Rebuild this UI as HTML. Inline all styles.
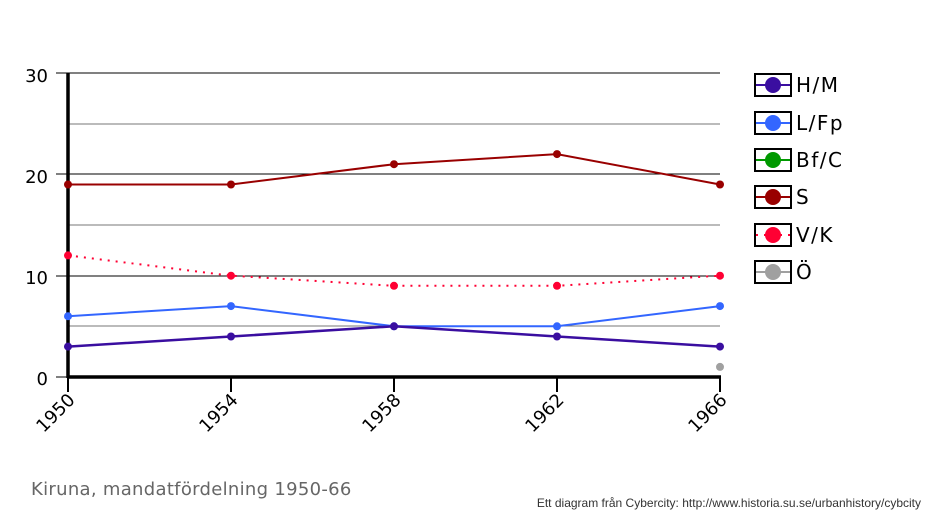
<!DOCTYPE html>
<html><head><meta charset="utf-8"><style>body{margin:0;background:#fff}svg{display:block}</style></head><body>
<svg width="938" height="521" xmlns="http://www.w3.org/2000/svg" font-family="'DejaVu Sans', sans-serif">
<g stroke="#777" stroke-width="1">
<line x1="68" x2="720" y1="124" y2="124"/><line x1="68" x2="720" y1="225" y2="225"/><line x1="68" x2="720" y1="326" y2="326"/>
</g>
<g stroke="#000" stroke-width="1">
<line x1="56" x2="720" y1="73" y2="73"/><line x1="56" x2="720" y1="174" y2="174"/><line x1="56" x2="720" y1="276" y2="276"/><line x1="56" x2="68" y1="377" y2="377"/>
</g>
<g stroke="#000" stroke-width="2">
<line x1="231" x2="231" y1="377" y2="392"/><line x1="394" x2="394" y1="377" y2="392"/><line x1="557" x2="557" y1="377" y2="392"/><line x1="720" x2="720" y1="377" y2="392"/><line x1="68" x2="68" y1="377" y2="392"/>
</g>
<line x1="68" x2="68" y1="73" y2="378" stroke="#000" stroke-width="3.5"/>
<line x1="67" x2="721" y1="377" y2="377" stroke="#000" stroke-width="3.5"/>
<g font-size="18" text-anchor="end" fill="#000">
<text x="48" y="82">30</text><text x="48" y="183">20</text><text x="48" y="284">10</text><text x="48" y="385">0</text>
</g>
<g font-size="18" text-anchor="end" fill="#000">
<text transform="translate(76,401) rotate(-45)">1950</text>
<text transform="translate(239,401) rotate(-45)">1954</text>
<text transform="translate(402,401) rotate(-45)">1958</text>
<text transform="translate(565,401) rotate(-45)">1962</text>
<text transform="translate(728,401) rotate(-45)">1966</text>
</g>
<polyline points="68,184.5 231,184.5 394,164.2 557,154.1 720,184.5" fill="none" stroke="#990000" stroke-width="2"/>
<g fill="#990000"><circle cx="68" cy="184.5" r="4"/><circle cx="231" cy="184.5" r="4"/><circle cx="394" cy="164.2" r="4"/><circle cx="557" cy="154.1" r="4"/><circle cx="720" cy="184.5" r="4"/></g>
<polyline points="68,255.4 231,275.7 394,285.8 557,285.8 720,275.7" fill="none" stroke="#ff0033" stroke-width="2" stroke-dasharray="2,6"/>
<g fill="#ff0033"><circle cx="68" cy="255.4" r="4"/><circle cx="231" cy="275.7" r="4"/><circle cx="394" cy="285.8" r="4"/><circle cx="557" cy="285.8" r="4"/><circle cx="720" cy="275.7" r="4"/></g>
<polyline points="68,316.2 231,306.1 394,326.3 557,326.3 720,306.1" fill="none" stroke="#3366ff" stroke-width="2"/>
<g fill="#3366ff"><circle cx="68" cy="316.2" r="4"/><circle cx="231" cy="306.1" r="4"/><circle cx="394" cy="326.3" r="4"/><circle cx="557" cy="326.3" r="4"/><circle cx="720" cy="306.1" r="4"/></g>
<polyline points="68,346.6 231,336.5 394,326.3 557,336.5 720,346.6" fill="none" stroke="#3a0ea0" stroke-width="2.5"/>
<g fill="#3a0ea0"><circle cx="68" cy="346.6" r="4"/><circle cx="231" cy="336.5" r="4"/><circle cx="394" cy="326.3" r="4"/><circle cx="557" cy="336.5" r="4"/><circle cx="720" cy="346.6" r="4"/></g>
<circle cx="720" cy="366.9" r="4" fill="#a0a0a0"/>
<g stroke-width="2">
<rect x="755" y="74" width="36" height="22" fill="#fff" stroke="#000"/><line x1="756" x2="790" y1="85" y2="85" stroke="#3a0ea0"/><circle cx="773" cy="85" r="8" fill="#3a0ea0" stroke="none"/>
<rect x="755" y="112" width="36" height="22" fill="#fff" stroke="#000"/><line x1="756" x2="790" y1="123" y2="123" stroke="#3366ff"/><circle cx="773" cy="123" r="8" fill="#3366ff" stroke="none"/>
<rect x="755" y="149" width="36" height="22" fill="#fff" stroke="#000"/><line x1="756" x2="790" y1="160" y2="160" stroke="#009900"/><circle cx="773" cy="160" r="8" fill="#009900" stroke="none"/>
<rect x="755" y="186" width="36" height="22" fill="#fff" stroke="#000"/><line x1="756" x2="790" y1="197" y2="197" stroke="#990000"/><circle cx="773" cy="197" r="8" fill="#990000" stroke="none"/>
<rect x="755" y="224" width="36" height="22" fill="#fff" stroke="#000"/><line x1="756" x2="790" y1="235" y2="235" stroke="#ff0033" stroke-dasharray="2,6"/><circle cx="773" cy="235" r="8" fill="#ff0033" stroke="none"/>
<rect x="755" y="261" width="36" height="22" fill="#fff" stroke="#000"/><line x1="756" x2="790" y1="272" y2="272" stroke="#a0a0a0"/><circle cx="773" cy="272" r="8" fill="#a0a0a0" stroke="none"/>
</g>
<g font-size="20" fill="#000" letter-spacing="1.5">
<text x="796" y="92">H/M</text><text x="796" y="130">L/Fp</text><text x="796" y="167">Bf/C</text><text x="796" y="204">S</text><text x="796" y="242">V/K</text><text x="796" y="279">Ö</text>
</g>
<text x="31" y="495" font-size="18" fill="#666" letter-spacing="0.3">Kiruna, mandatfördelning 1950-66</text>
<text x="921" y="507" font-size="12" fill="#333" text-anchor="end" font-family="'Liberation Sans', sans-serif">Ett diagram från Cybercity: http://www.historia.su.se/urbanhistory/cybcity</text>
</svg>
</body></html>
